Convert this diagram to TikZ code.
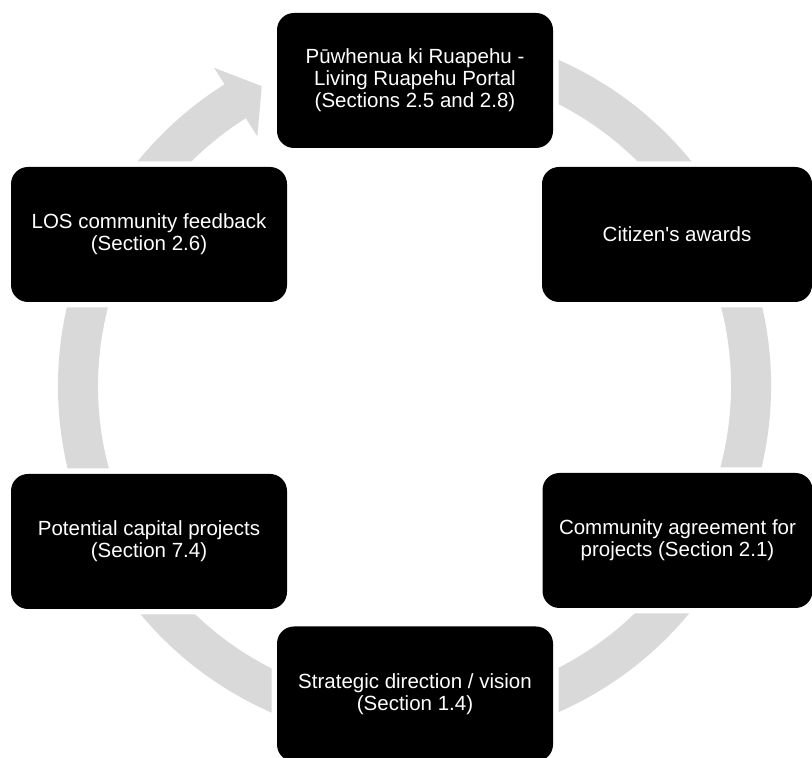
\documentclass[tikz,border=0pt]{standalone}
\usepackage{fontspec}
\setmainfont{Liberation Sans}
\definecolor{ringgrey}{HTML}{D9D9D9}
\begin{document}
\begin{tikzpicture}[x=1pt,y=1pt,
  stagebox/.style={rectangle, rounded corners=17pt, fill=black, text=white,
    inner sep=0pt, align=center, font=\fontsize{20.5pt}{22pt}\selectfont,
    preaction={draw=white, line width=11pt}},
  wide/.style={minimum width=276pt, minimum height=135pt},
  narrow/.style={minimum width=270pt, minimum height=135pt}]
\useasboundingbox (0,0) rectangle (812,758);
\fill[white] (0,0) rectangle (812,758);
% cycle ring with arrowhead
\begin{scope}[shift={(414.5,372)}]
\coordinate (ringc) at (0,0);
\fill[ringgrey] (112:356.5pt) arc[start angle=112, end angle=-237.8, radius=356.5pt]
  -- (122.2:376pt) -- (117:336.5pt) -- (122.2:295pt) -- (122.2:316.5pt)
  arc[start angle=122.2, end angle=472, radius=316.5pt] -- cycle;
\end{scope}
% stages
\node[stagebox, wide] (portal) at (415,677.5) {Pūwhenua ki Ruapehu -\\Living Ruapehu Portal\\(Sections 2.5 and 2.8)};
\node[stagebox, narrow] (awards) at (677,523.5) {Citizen\textquotesingle s awards};
\node[stagebox, narrow] (agree) at (677.5,217.5) {Community agreement for\\projects (Section 2.1)};
\node[stagebox, wide] (vision) at (415,64) {Strategic direction / vision\\(Section 1.4)};
\node[stagebox, wide] (capital) at (149,216.5) {Potential capital projects\\(Section 7.4)};
\node[stagebox, wide] (los) at (149,523.5) {LOS community feedback\\(Section 2.6)};
\end{tikzpicture}
\end{document}
